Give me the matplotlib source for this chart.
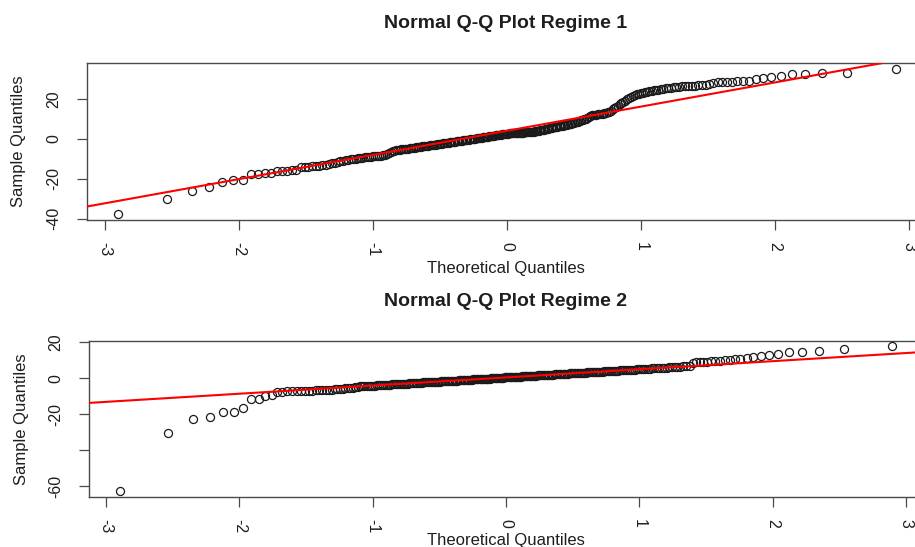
import numpy as np
import matplotlib
matplotlib.use("Agg")
import matplotlib.pyplot as plt
from statistics import NormalDist

# ---- data: ordered sample values for each regime ----
regime1_sample = [
    -37.8, -30.1, -26.2, -24.2, -21.5, -20.7, -20.6, -17.8, -17.5, -17.3,
    -17.0, -16.2, -16.0, -15.9, -15.8, -15.6, -14.2, -14.1, -14.0, -13.8,
    -13.6, -13.5, -13.3, -13.0, -12.6, -12.3, -12.0, -11.6, -11.3, -11.0,
    -10.7, -10.5, -10.2, -10.0, -9.8, -9.6, -9.5, -9.3, -9.2, -9.0,
    -8.9, -8.8, -8.7, -8.6, -8.5, -8.4, -8.3, -8.2, -8.0, -7.6,
    -6.8, -6.4, -6.1, -5.9, -5.7, -5.5, -5.4, -5.2, -5.1, -5.0,
    -4.9, -4.8, -4.7, -4.5, -4.4, -4.3, -4.1, -4.0, -3.9, -3.8,
    -3.7, -3.6, -3.5, -3.4, -3.3, -3.2, -3.1, -3.0, -2.9, -2.8,
    -2.6, -2.5, -2.4, -2.3, -2.2, -2.1, -2.0, -1.9, -1.8, -1.7,
    -1.6, -1.5, -1.4, -1.3, -1.2, -1.1, -1.0, -0.9, -0.8, -0.7,
    -0.6, -0.5, -0.4, -0.3, -0.2, -0.1, 0.0, 0.1, 0.2, 0.3,
    0.4, 0.5, 0.6, 0.7, 0.8, 0.9, 1.0, 1.1, 1.2, 1.3,
    1.4, 1.5, 1.6, 1.7, 1.8, 1.9, 2.0, 2.1, 2.2, 2.3,
    2.4, 2.5, 2.6, 2.7, 2.7, 2.8, 2.8, 2.9, 2.9, 3.0,
    3.0, 3.0, 3.1, 3.1, 3.1, 3.2, 3.2, 3.3, 3.3, 3.4,
    3.4, 3.5, 3.5, 3.6, 3.7, 3.8, 3.9, 4.0, 4.1, 4.3,
    4.4, 4.6, 4.7, 4.9, 5.0, 5.2, 5.3, 5.5, 5.6, 5.8,
    5.9, 6.1, 6.2, 6.3, 6.5, 6.6, 6.7, 6.9, 7.0, 7.2,
    7.3, 7.5, 7.7, 7.9, 8.1, 8.4, 8.6, 8.8, 9.1, 9.4,
    9.7, 9.9, 10.2, 10.6, 11.2, 11.8, 12.0, 12.1, 12.2, 12.3,
    12.4, 12.5, 12.6, 12.8, 12.9, 13.1, 13.4, 13.8, 14.3, 14.9,
    15.6, 16.2, 16.8, 17.4, 18.0, 18.7, 19.3, 19.9, 20.5, 21.1,
    21.6, 22.0, 22.4, 22.7, 23.0, 23.3, 23.6, 23.8, 24.0, 24.2,
    24.4, 24.6, 24.8, 25.0, 25.3, 25.5, 25.7, 25.9, 26.1, 26.3,
    26.4, 26.5, 26.6, 26.7, 26.8, 26.9, 27.0, 27.1, 27.3, 27.5,
    28.4, 28.6, 28.7, 28.8, 28.9, 29.0, 29.1,
    29.4, 30.3, 30.7, 31.0, 31.5, 32.7, 32.9, 33.0, 33.2, 35.3,
]

regime2_sample = [
    -62.8, -30.3, -22.9, -21.5, -18.9, -18.9, -16.8, -11.8, -11.8, -10.0,
    -9.2, -7.8, -7.5, -7.4, -7.4, -7.3, -7.2, -7.1, -7.0, -6.9,
    -6.8, -6.7, -6.6, -6.5, -6.4, -6.3, -6.2, -6.0, -5.9, -5.8,
    -5.6, -5.5, -5.4, -5.2, -5.1, -4.7, -4.6, -4.5, -4.5, -4.4,
    -4.3, -4.2, -4.2, -4.1, -4.0, -4.0, -3.9, -3.8, -3.8, -3.7,
    -3.6, -3.6, -3.5, -3.5, -3.4, -3.3, -3.3, -3.2, -3.1, -3.1,
    -3.0, -3.0, -2.9, -2.9, -2.8, -2.8, -2.7, -2.6, -2.6, -2.5,
    -2.5, -2.4, -2.4, -2.3, -2.3, -2.2, -2.2, -2.1, -2.1, -2.0,
    -2.0, -1.9, -1.9, -1.8, -1.8, -1.7, -1.7, -1.6, -1.6, -1.5,
    -1.5, -1.5, -1.4, -1.4, -1.3, -1.3, -1.2, -1.2, -1.1, -1.1,
    -1.0, -1.0, -0.9, -0.9, -0.9, -0.8, -0.8, -0.7, -0.7, -0.6,
    -0.6, -0.6, -0.5, -0.5, -0.4, -0.4, -0.3, -0.3, -0.2, -0.2,
    -0.2, -0.1, -0.1, 0.0, 0.0, 0.1, 0.1, 0.1, 0.2, 0.2,
    0.3, 0.3, 0.4, 0.4, 0.4, 0.5, 0.5, 0.6, 0.6, 0.7,
    0.7, 0.7, 0.8, 0.8, 0.9, 0.9, 1.0, 1.0, 1.0, 1.1,
    1.1, 1.2, 1.2, 1.3, 1.3, 1.4, 1.4, 1.4, 1.5, 1.5,
    1.6, 1.6, 1.7, 1.7, 1.8, 1.8, 1.8, 1.9, 1.9, 2.0,
    2.0, 2.1, 2.1, 2.2, 2.2, 2.3, 2.3, 2.3, 2.4, 2.4,
    2.5, 2.5, 2.6, 2.6, 2.7, 2.7, 2.8, 2.8, 2.9, 2.9,
    3.0, 3.0, 3.1, 3.1, 3.2, 3.2, 3.3, 3.3, 3.4, 3.4,
    3.5, 3.6, 3.6, 3.7, 3.7, 3.8, 3.8, 3.9, 3.9, 4.0,
    4.1, 4.1, 4.2, 4.2, 4.3, 4.4, 4.4, 4.5, 4.6, 4.6,
    4.7, 4.8, 4.8, 4.9, 5.0, 5.0, 5.1, 5.2, 5.3, 5.3,
    5.4, 5.5, 5.6, 5.7, 5.8, 5.8, 5.9, 6.0, 6.1, 6.2,
    6.3, 6.4, 6.5, 6.6, 6.7, 8.7, 8.8, 8.9, 9.0, 9.1,
    9.3, 9.5, 9.7, 10.0, 10.3, 10.5, 10.8, 11.3, 11.9, 12.4,
    13.0, 13.5, 14.7, 14.7, 15.0, 16.1, 17.6,
]

titles = ["Normal Q-Q Plot Regime 1", "Normal Q-Q Plot Regime 2"]
x_ticks = [-3, -2, -1, 0, 1, 2, 3]
y_ticks_1 = [-40, -20, 0, 20]
y_ticks_2 = [-60, -40, -20, 0, 20]
y_labels_2 = ["-60", "", "-20", "0", "20"]   # -40 label dropped (overlaps)

plt.rcParams["font.family"] = ["Liberation Sans", "DejaVu Sans"]

W, H = 915, 547
fig = plt.figure(figsize=(W / 100, H / 100), dpi=100)
fig.patch.set_facecolor("white")

TXT = "#1e1e1e"
FRAME = "#4a4a4a"


def normal_scores(n):
    a = 3 / 8 if n <= 10 else 0.5
    p = (np.arange(1, n + 1) - a) / (n + 1 - 2 * a)
    nd = NormalDist()
    return np.array([nd.inv_cdf(v) for v in p])


def padded(lo, hi, frac=0.04):
    r = hi - lo
    return lo - frac * r, hi + frac * r


def add_axes_px(left, top, right, bottom):
    return fig.add_axes([left / W, 1 - bottom / H, (right - left) / W, (bottom - top) / H])


def qq_panel(ax, sample, yticks, ylabels):
    y = np.sort(np.asarray(sample, dtype=float))
    x = normal_scores(len(y))
    ax.plot(x, y, linestyle="none", marker="o", ms=5.8, mfc="none",
            mec="#1a1a1a", mew=0.9, zorder=3)
    # reference line through the first and third quartiles
    q1, q3 = np.quantile(y, [0.25, 0.75])
    z1, z3 = NormalDist().inv_cdf(0.25), NormalDist().inv_cdf(0.75)
    slope = (q3 - q1) / (z3 - z1)
    intercept = q1 - slope * z1
    ax.axline((0, intercept), slope=slope, color="#ff0000", lw=1.5, zorder=4)

    ax.set_xlim(*padded(x.min(), x.max()))
    ax.set_ylim(*padded(y.min(), y.max()))
    ax.set_xticks(x_ticks)
    ax.set_xticklabels([str(t) for t in x_ticks], rotation=-90)
    ax.set_yticks(yticks)
    ax.set_yticklabels(ylabels, rotation=90, va="center")
    ax.tick_params(axis="both", length=7.5, width=0.9, color=FRAME,
                   labelsize=11.5, labelcolor=TXT)
    ax.tick_params(axis="x", pad=8)
    ax.tick_params(axis="y", pad=11)
    for s in ax.spines.values():
        s.set_color(FRAME)
        s.set_linewidth(1.0)


ax1 = add_axes_px(87.4, 63, 926.6, 220)
qq_panel(ax1, regime1_sample, y_ticks_1, [str(t) for t in y_ticks_1])

ax2 = add_axes_px(88.6, 340.7, 923.4, 497)
qq_panel(ax2, regime2_sample, y_ticks_2, y_labels_2)


def ftext(xp, yp, s, **kw):
    fig.text(xp / W, 1 - yp / H, s, ha="center", va="center", color=TXT, **kw)


ftext(506, 23, titles[0], fontsize=14, fontweight="bold")
ftext(506, 302, titles[1], fontsize=14, fontweight="bold")
ftext(506, 269, "Theoretical Quantiles", fontsize=12)
ftext(506, 540, "Theoretical Quantiles", fontsize=12)
ftext(19, 141, "Sample Quantiles", fontsize=12, rotation=90)
ftext(22, 419, "Sample Quantiles", fontsize=12, rotation=90)

fig.savefig("out.png", dpi=100, facecolor="white")
